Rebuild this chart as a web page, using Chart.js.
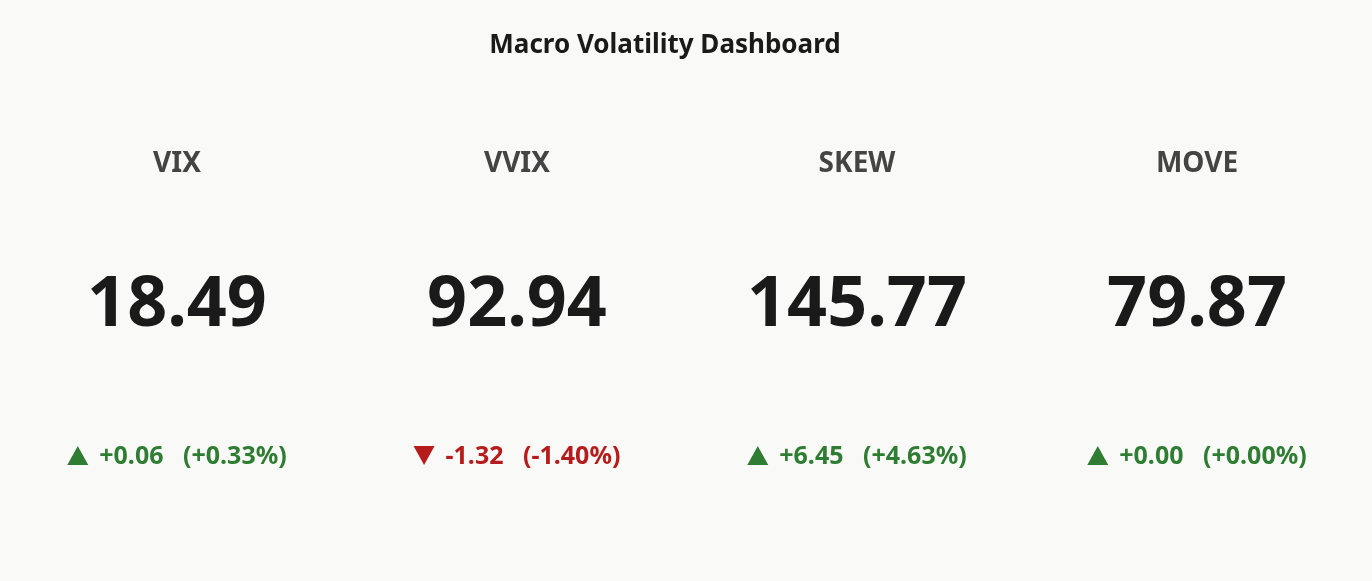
<!DOCTYPE html>
<html>
<head>
<meta charset="utf-8">
<script src="https://cdn.jsdelivr.net/npm/chart.js@4.4.0/dist/chart.umd.min.js"></script>
<style>
  html, body { margin: 0; padding: 0; background: #f9f9f7; }
  #wrap { width: 1372px; height: 581px; }
</style>
</head>
<body>
<div id="wrap"><canvas id="dash"></canvas></div>
<script>
const tickers = ['VIX', 'VVIX', 'SKEW', 'MOVE'];
const values = [18.49, 92.94, 145.77, 79.87];
const changes = [0.06, -1.32, 6.45, 0.00];
const changePct = [0.33, -1.40, 4.63, 0.00];

const FONT = '"Noto Sans", "Open Sans", sans-serif';
const UP = '#2e7d32';
const DOWN = '#b71c1c';

function fmtSigned(v) {
    return (v < 0 ? '-' : '+') + Math.abs(v).toFixed(2);
}

// draws the title and indicator texts at each category's x position
const tilePlugin = {
    id: 'tiles',
    afterDraw(chart) {
        const { ctx, scales: { x } } = chart;
        ctx.save();
        ctx.textAlign = 'center';
        ctx.textBaseline = 'middle';

        ctx.fillStyle = '#1a1a1a';
        ctx.font = `bold 26px ${FONT}`;
        ctx.fillText('Macro Volatility Dashboard', 665, 46);

        tickers.forEach((name, i) => {
            const cx = x.getPixelForValue(i);

            ctx.fillStyle = '#444444';
            ctx.font = `bold 28px ${FONT}`;
            ctx.fillText(name, cx, 164);

            ctx.fillStyle = '#1a1a1a';
            ctx.font = `bold 70px ${FONT}`;
            ctx.fillText(values[i].toFixed(2), cx, 306);

            const up = changes[i] >= 0;
            const txt = `${fmtSigned(changes[i])}   (${fmtSigned(changePct[i])}%)`;
            ctx.font = `bold 25px ${FONT}`;
            const tw = ctx.measureText(txt).width;
            const triW = 21, gap = 11;
            const total = triW + gap + tw;
            const left = cx - total / 2;
            ctx.fillStyle = up ? UP : DOWN;
            ctx.beginPath();
            if (up) {
                ctx.moveTo(left, 465); ctx.lineTo(left + triW, 465); ctx.lineTo(left + triW / 2, 446);
            } else {
                ctx.moveTo(left, 446); ctx.lineTo(left + triW, 446); ctx.lineTo(left + triW / 2, 465);
            }
            ctx.closePath();
            ctx.fill();
            ctx.textAlign = 'left';
            ctx.fillText(txt, left + triW + gap, 457);
            ctx.textAlign = 'center';
        });
        ctx.restore();
    }
};

new Chart(document.getElementById('dash'), {
    type: 'bar',
    data: {
        labels: tickers,
        datasets: [{ data: values, backgroundColor: 'rgba(0,0,0,0)' }],
    },
    options: {
        responsive: true,
        maintainAspectRatio: false,
        animation: false,
        layout: { padding: { left: 7, right: 5, top: 80 } },
        plugins: {
            legend: { display: false },
            tooltip: { enabled: false },
            title: { display: false },
        },
        scales: {
            x: { display: false },
            y: { display: false, beginAtZero: true },
        },
    },
    plugins: [tilePlugin],
});
</script>
</body>
</html>
